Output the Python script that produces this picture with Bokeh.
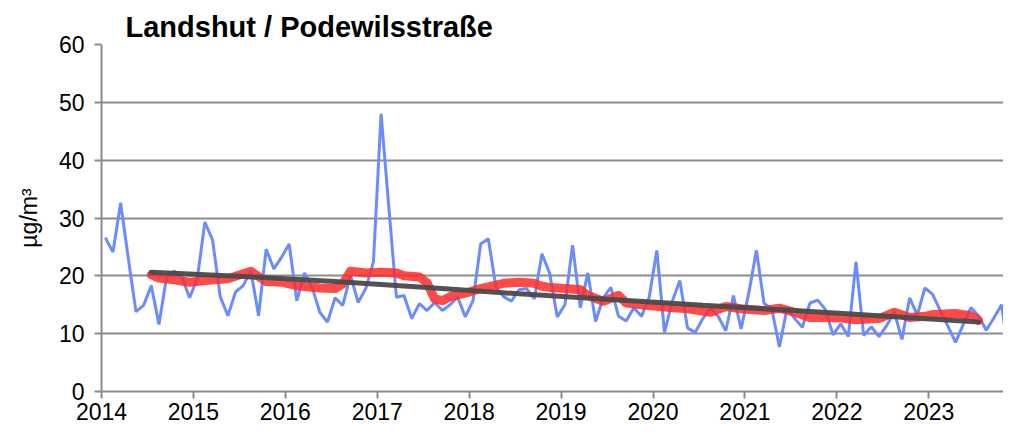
from bokeh.plotting import figure
from bokeh.models import Range1d, FixedTicker
from bokeh.embed import file_html
from bokeh.resources import INLINE

# --- data ---------------------------------------------------------------
start_year = 2014
monthly = [26.6, 24.1, 32.6, 23.0, 13.8, 14.9, 18.3, 11.6, 19.8, 20.8, 19.8, 16.2,
           19.5, 29.3, 26.2, 16.4, 13.1, 17.2, 18.3, 20.9, 13.1, 24.6, 21.2, 23.2,
           25.5, 15.7, 20.5, 18.0, 13.7, 12.0, 16.2, 14.9, 20.1, 15.4, 17.8, 22.4,
           48.0, 32.0, 16.3, 16.6, 12.6, 15.2, 14.0, 15.4, 14.0, 15.0, 16.3, 12.9,
           15.7, 25.5, 26.4, 18.0, 16.4, 15.6, 17.6, 17.8, 16.0, 23.8, 20.5, 12.9,
           15.0, 25.3, 14.5, 20.5, 12.1, 16.2, 18.0, 13.0, 12.2, 14.5, 13.0, 16.3,
           24.4, 10.2, 15.5, 19.2, 11.0, 10.2, 12.6, 14.4, 13.0, 10.5, 16.6, 10.8,
           17.0, 24.4, 15.2, 14.3, 7.7, 14.4, 12.6, 11.1, 15.3, 15.8, 14.2, 9.8,
           11.7, 9.5, 22.4, 9.7, 11.2, 9.5, 11.4, 13.7, 9.0, 16.2, 13.2, 17.9,
           16.8, 14.0, 11.3, 8.5, 11.6, 14.5, 13.1, 10.6, 12.7, 15.0, 5.9]

ma_month = [6, 7, 9, 11, 13, 16, 19, 21, 23, 25, 28, 30, 31, 32, 34, 36, 38, 39,
            41, 42, 43, 44, 45, 47, 49, 52, 54, 56, 57, 58, 60, 62, 63, 65, 67,
            68, 70, 73, 76, 79, 81, 83, 86, 88, 90, 92, 94, 96, 98, 101, 103, 105,
            107, 108, 111, 113, 114]
ma_value = [20.2, 19.6, 19.3, 18.9, 19.2, 19.5, 20.8, 19.0, 18.9, 18.3, 17.9, 17.8,
            18.6, 20.8, 20.5, 20.6, 20.5, 20.0, 19.8, 18.8, 16.0, 15.7, 16.4, 17.0,
            17.8, 18.7, 18.9, 18.7, 18.2, 18.0, 17.8, 17.6, 16.6, 15.6, 16.6, 15.3,
            15.0, 14.6, 14.3, 13.7, 14.7, 14.3, 14.0, 14.4, 13.7, 12.8, 12.8, 12.7,
            12.4, 12.6, 13.7, 12.8, 13.0, 13.3, 13.5, 13.1, 12.3]

trend_month = [6, 18, 30, 42, 54, 66, 78, 90, 102, 114]
trend_value = [20.6, 19.9, 19.0, 18.0, 16.9, 15.9, 14.9, 14.0, 13.0, 12.0]

year_ticks = [2014, 2015, 2016, 2017, 2018, 2019, 2020, 2021, 2022, 2023]
year_labels = ["2014", "2015", "2016", "2017", "2018", "2019", "2020", "2021", "2022", "2023"]
y_ticks = [0, 10, 20, 30, 40, 50, 60]

def mx(i):
    return start_year + (i + 0.5) / 12.0

FONT = "Liberation Sans"
GRID = "#8c8c8c"

p = figure(width=1003, height=432, output_backend="svg", toolbar_location=None,
           x_range=Range1d(2014.0, 2023.813), y_range=Range1d(0, 60),
           min_border_left=101, min_border_right=0, min_border_top=44, min_border_bottom=41)
p.outline_line_color = None
p.background_fill_color = "white"

p.title.text = "Landshut / Podewilsstraße"
p.title.text_font = FONT
p.title.text_font_size = "29px"
p.title.text_font_style = "bold"
p.title.text_color = "black"
p.title.align = "left"
p.title.offset = 24
p.title.standoff = 4

# lines
p.line([mx(i) for i in range(len(monthly))], monthly, line_color="#6b8cff", line_width=3)
p.line([mx(i) for i in ma_month], ma_value, line_color="#ff2a2a", line_width=9,
       line_alpha=0.85, line_join="round", line_cap="round")
p.line([mx(i) for i in trend_month], trend_value, line_color="#4a4a4a", line_width=5,
       line_alpha=0.95, line_cap="round")

# axes
p.xaxis.ticker = FixedTicker(ticks=year_ticks)
p.xaxis.major_label_overrides = {t: l for t, l in zip(year_ticks, year_labels)}
p.yaxis.ticker = FixedTicker(ticks=y_ticks)
for ax in (p.xaxis[0], p.yaxis[0]):
    ax.axis_line_color = GRID
    ax.axis_line_width = 2
    ax.major_tick_line_color = GRID
    ax.major_tick_line_width = 2
    ax.major_tick_out = 7
    ax.major_tick_in = 0
    ax.minor_tick_line_color = None
    ax.major_label_text_font = FONT
    ax.major_label_text_font_size = "23px"
    ax.major_label_text_color = "black"
p.yaxis.major_label_standoff = 10
p.xaxis.major_label_standoff = 4
p.yaxis.axis_label = "µg/m³"
p.yaxis.axis_label_text_font = FONT
p.yaxis.axis_label_text_font_size = "23px"
p.yaxis.axis_label_text_font_style = "normal"
p.yaxis.axis_label_text_color = "black"
p.yaxis.axis_label_standoff = 14

p.xgrid.grid_line_color = None
p.ygrid.grid_line_color = GRID
p.ygrid.grid_line_width = 2

open("out.html", "w").write(file_html(p, INLINE))
